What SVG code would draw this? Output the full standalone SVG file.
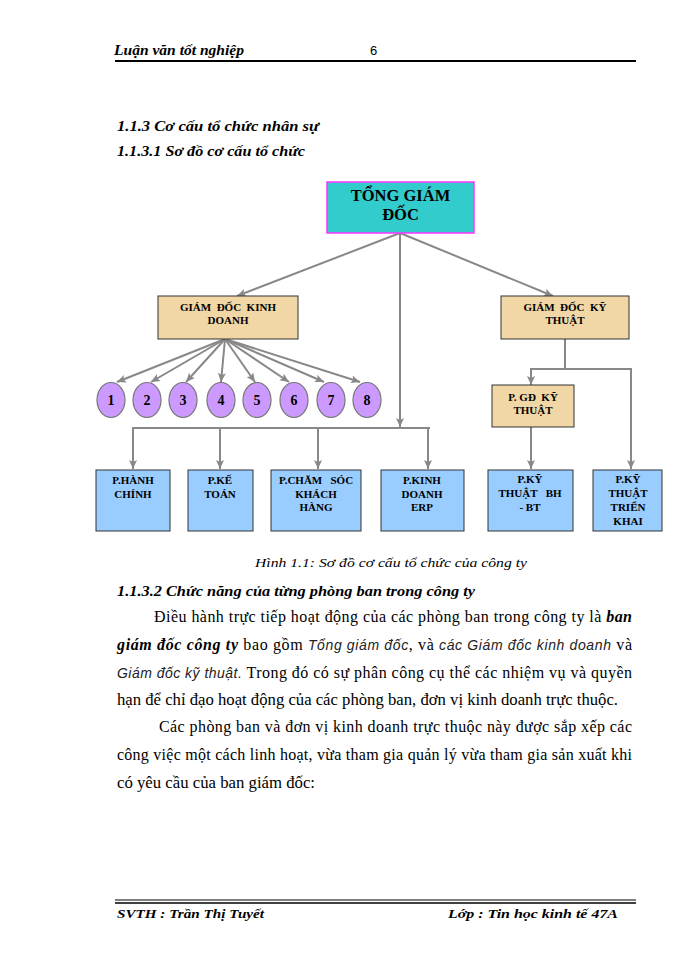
<svg xmlns="http://www.w3.org/2000/svg" width="700" height="960" viewBox="0 0 700 960">
<style>
.serif{font-family:"Liberation Serif","Times New Roman",serif;fill:#000}
.bi{font-weight:bold;font-style:italic}
.it{font-style:italic}
.sans-it{font-family:"Liberation Sans",Arial,sans-serif;font-style:italic;fill:#222}
.box-t{font-family:"Liberation Serif","Times New Roman",serif;font-weight:bold;font-size:11px;text-anchor:middle;fill:#000}
.num{font-family:"Liberation Serif","Times New Roman",serif;font-weight:bold;font-size:14px;text-anchor:middle;fill:#000}
.tan{fill:#F2D7A6;stroke:#333;stroke-width:1}
.blue{fill:#99CCFF;stroke:#333;stroke-width:1}
.circ{fill:#CC99FF;stroke:#777;stroke-width:1.2}
.con{stroke:#888;stroke-width:2;fill:none}
</style>
<defs>
<marker id="arr" markerUnits="userSpaceOnUse" markerWidth="10" markerHeight="9" refX="9" refY="4.5" orient="auto">
<path d="M0,0.5 L9,4.5 L0,8.5 L2,4.5 z" fill="#888"/>
</marker>
</defs>
<rect width="700" height="960" fill="#fff"/>

<g id="header">
<text class="serif bi" x="114" y="55" font-size="14" textLength="130" lengthAdjust="spacingAndGlyphs">Luận văn tốt nghiệp</text>
<text x="370" y="55" font-family="'Liberation Sans',Arial,sans-serif" font-size="13" fill="#000">6</text>
<line x1="115" y1="61" x2="636" y2="61" stroke="#000" stroke-width="2"/>
</g>

<g id="headings">
<text class="serif bi" x="117" y="131" font-size="15.5" textLength="202" lengthAdjust="spacingAndGlyphs">1.1.3 Cơ cấu tổ chức nhân sự</text>
<text class="serif bi" x="117" y="156" font-size="15.5" textLength="188" lengthAdjust="spacingAndGlyphs">1.1.3.1 Sơ đồ cơ cấu tổ chức</text>
</g>

<g id="connectors">
<line class="con" x1="400" y1="233" x2="237" y2="296" marker-end="url(#arr)"/>
<line class="con" x1="400" y1="233" x2="553" y2="296" marker-end="url(#arr)"/>
<line class="con" x1="400" y1="233" x2="400" y2="427" marker-end="url(#arr)"/>
<polyline class="con" points="133,468 133,428 430,428"/>
<line class="con" x1="133" y1="428" x2="133" y2="469" marker-end="url(#arr)"/>
<line class="con" x1="220" y1="428" x2="220" y2="469" marker-end="url(#arr)"/>
<line class="con" x1="318" y1="428" x2="318" y2="469" marker-end="url(#arr)"/>
<line class="con" x1="428" y1="428" x2="428" y2="469" marker-end="url(#arr)"/>
<line class="con" x1="225" y1="339" x2="117" y2="382" marker-end="url(#arr)"/>
<line class="con" x1="225" y1="339" x2="151" y2="382" marker-end="url(#arr)"/>
<line class="con" x1="225" y1="339" x2="186" y2="382" marker-end="url(#arr)"/>
<line class="con" x1="225" y1="339" x2="221" y2="382" marker-end="url(#arr)"/>
<line class="con" x1="225" y1="339" x2="255" y2="382" marker-end="url(#arr)"/>
<line class="con" x1="225" y1="339" x2="289" y2="382" marker-end="url(#arr)"/>
<line class="con" x1="225" y1="339" x2="324" y2="382" marker-end="url(#arr)"/>
<line class="con" x1="225" y1="339" x2="360" y2="382" marker-end="url(#arr)"/>
<polyline class="con" points="565,339 565,369"/>
<polyline class="con" points="531,385 531,369 631,369 631,468"/>
<line class="con" x1="531" y1="369" x2="531" y2="385" marker-end="url(#arr)"/>
<line class="con" x1="631" y1="369" x2="631" y2="469" marker-end="url(#arr)"/>
<line class="con" x1="531" y1="427" x2="531" y2="469" marker-end="url(#arr)"/>
</g>

<g id="tong-giam-doc">
<rect x="327" y="182" width="147" height="51" fill="#33CCCC" stroke="#FF33FF" stroke-width="1.5"/>
<text class="serif" x="400.5" y="201" font-size="16.5" font-weight="bold" text-anchor="middle">TỔNG GIÁM</text>
<text class="serif" x="400.5" y="220" font-size="16.5" font-weight="bold" text-anchor="middle">ĐỐC</text>
</g>
<g id="gd-kinh-doanh">
<rect class="tan" x="158" y="296" width="140" height="43"/>
<text class="box-t" x="228" y="311" xml:space="preserve">GIÁM  ĐỐC  KINH</text>
<text class="box-t" x="228" y="324">DOANH</text>
</g>
<g id="gd-ky-thuat">
<rect class="tan" x="501" y="296" width="128" height="43"/>
<text class="box-t" x="565" y="311" xml:space="preserve">GIÁM  ĐỐC  KỸ</text>
<text class="box-t" x="565" y="324">THUẬT</text>
</g>
<g id="circle-1"><ellipse class="circ" cx="111" cy="400" rx="14" ry="17.5"/><text class="num" x="111" y="405">1</text></g>
<g id="circle-2"><ellipse class="circ" cx="147" cy="400" rx="14" ry="17.5"/><text class="num" x="147" y="405">2</text></g>
<g id="circle-3"><ellipse class="circ" cx="183" cy="400" rx="14" ry="17.5"/><text class="num" x="183" y="405">3</text></g>
<g id="circle-4"><ellipse class="circ" cx="221" cy="400" rx="14" ry="17.5"/><text class="num" x="221" y="405">4</text></g>
<g id="circle-5"><ellipse class="circ" cx="257" cy="400" rx="14" ry="17.5"/><text class="num" x="257" y="405">5</text></g>
<g id="circle-6"><ellipse class="circ" cx="294" cy="400" rx="14" ry="17.5"/><text class="num" x="294" y="405">6</text></g>
<g id="circle-7"><ellipse class="circ" cx="331" cy="400" rx="14" ry="17.5"/><text class="num" x="331" y="405">7</text></g>
<g id="circle-8"><ellipse class="circ" cx="367" cy="400" rx="14" ry="17.5"/><text class="num" x="367" y="405">8</text></g>

<g id="p-gd-ky-thuat">
<rect class="tan" x="492" y="385" width="82" height="42"/>
<text class="box-t" x="533" y="401" xml:space="preserve">P. GĐ  KỸ</text>
<text class="box-t" x="533" y="414">THUẬT</text>
</g>
<g id="p-hanh-chinh">
<rect class="blue" x="96" y="470" width="74" height="61"/>
<text class="box-t" x="133" y="484">P.HÀNH</text>
<text class="box-t" x="133" y="498">CHÍNH</text>
</g>
<g id="p-ke-toan">
<rect class="blue" x="188" y="470" width="65" height="61"/>
<text class="box-t" x="220" y="484">P.KẾ</text>
<text class="box-t" x="220" y="498">TOÁN</text>
</g>
<g id="p-cham-soc">
<rect class="blue" x="271" y="470" width="90" height="61"/>
<text class="box-t" x="316" y="484" xml:space="preserve">P.CHĂM   SÓC</text>
<text class="box-t" x="316" y="498">KHÁCH</text>
<text class="box-t" x="316" y="511">HÀNG</text>
</g>
<g id="p-kinh-doanh-erp">
<rect class="blue" x="381" y="470" width="83" height="61"/>
<text class="box-t" x="422" y="484">P.KINH</text>
<text class="box-t" x="422" y="498">DOANH</text>
<text class="box-t" x="422" y="511">ERP</text>
</g>
<g id="p-ky-thuat-bh-bt">
<rect class="blue" x="488" y="470" width="85" height="61"/>
<text class="box-t" x="530" y="483">P.KỸ</text>
<text class="box-t" x="530" y="497" xml:space="preserve">THUẬT   BH</text>
<text class="box-t" x="530" y="511">- BT</text>
</g>
<g id="p-ky-thuat-trien-khai">
<rect class="blue" x="593" y="470" width="69" height="61"/>
<text class="box-t" x="628" y="483">P.KỸ</text>
<text class="box-t" x="628" y="497">THUẬT</text>
<text class="box-t" x="628" y="511">TRIỂN</text>
<text class="box-t" x="628" y="525">KHAI</text>
</g>

<g id="body">
<text class="serif it" x="255" y="567" font-size="13.5" textLength="272" lengthAdjust="spacingAndGlyphs">Hình  1.1: Sơ đồ cơ cấu tổ chức của công ty</text>
<text class="serif bi" x="117" y="596" font-size="15.5" textLength="358" lengthAdjust="spacingAndGlyphs">1.1.3.2 Chức năng của từng phòng ban trong công ty</text>
<text class="serif" x="154" y="622" font-size="16" textLength="478" lengthAdjust="spacing">Điều hành trực tiếp hoạt động của các phòng ban trong công ty là <tspan class="bi">ban</tspan></text>
<text class="serif" x="117" y="650" font-size="16" textLength="515" lengthAdjust="spacing"><tspan class="bi">giám đốc công ty</tspan> bao gồm <tspan class="sans-it" font-size="14">Tổng giám đốc</tspan>, và <tspan class="sans-it" font-size="14">các Giám đốc kinh doanh</tspan> và</text>
<text class="serif" x="117" y="678" font-size="16" textLength="515" lengthAdjust="spacing"><tspan class="sans-it" font-size="14">Giám đốc kỹ thuật.</tspan> Trong đó có sự phân công cụ thể các nhiệm  vụ và quyền</text>
<text class="serif" x="117" y="705" font-size="16" textLength="501" lengthAdjust="spacingAndGlyphs">hạn để chỉ đạo hoạt động của các phòng ban, đơn vị kinh  doanh trực thuộc.</text>
<text class="serif" x="159" y="732" font-size="16" textLength="473" lengthAdjust="spacing">Các phòng ban và đơn vị kinh  doanh trực thuộc này được sắp xếp các</text>
<text class="serif" x="117" y="760" font-size="16" textLength="515" lengthAdjust="spacing">công việc một cách linh  hoạt, vừa tham gia quản lý vừa tham gia sản xuất khi</text>
<text class="serif" x="117" y="788" font-size="16" textLength="198" lengthAdjust="spacingAndGlyphs">có yêu cầu của ban giám  đốc:</text>
</g>

<g id="footer">
<line x1="115" y1="900" x2="636" y2="900" stroke="#000" stroke-width="1"/>
<line x1="115" y1="903" x2="636" y2="903" stroke="#000" stroke-width="1.5"/>
<text class="serif bi" x="117" y="918" font-size="13.5" textLength="147" lengthAdjust="spacingAndGlyphs">SVTH  : Trần Thị Tuyết</text>
<text class="serif bi" x="448" y="918" font-size="13.5" textLength="170" lengthAdjust="spacingAndGlyphs">Lớp : Tin  học kinh tế 47A</text>
</g>
</svg>
